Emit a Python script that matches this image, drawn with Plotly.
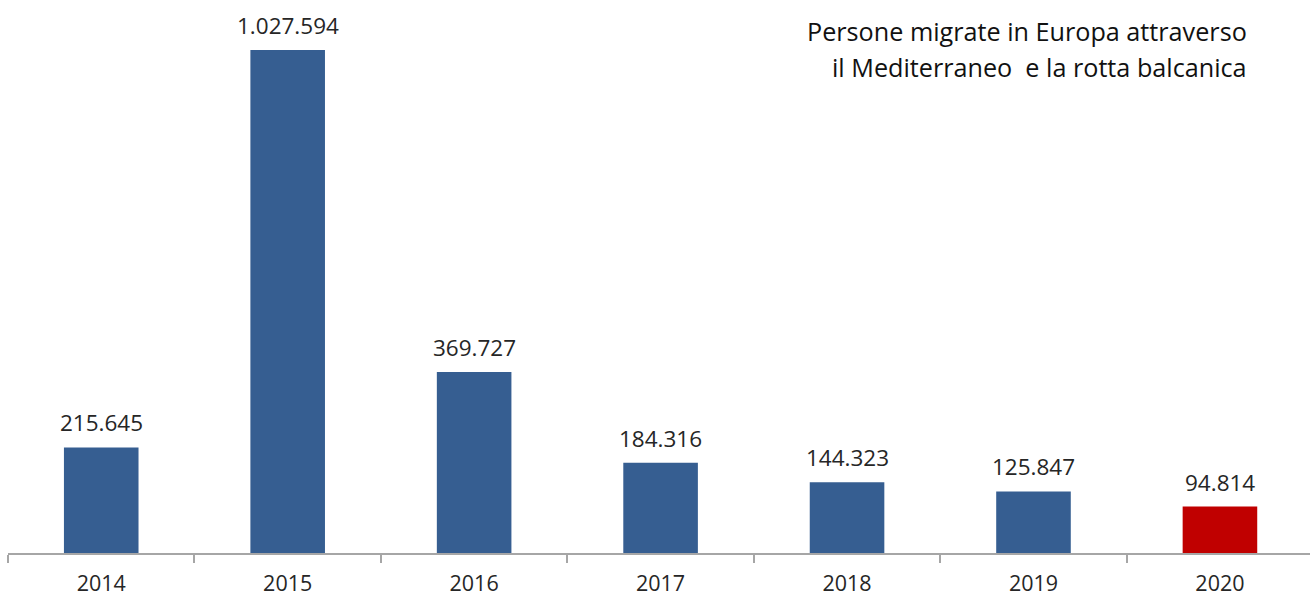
import plotly.graph_objects as go

# Arrivi annuali in Europa via Mediterraneo e rotta balcanica
years = ["2014", "2015", "2016", "2017", "2018", "2019", "2020"]
arrivals = [215645, 1027594, 369727, 184316, 144323, 125847, 94814]
bar_colors = ["#365E91"] * 6 + ["#C00000"]

title_lines = ["Persone migrate in Europa attraverso",
               "il Mediterraneo  e la rotta balcanica"]
title_line_y = [0.944, 0.879]  # posizione verticale (paper) di ciascuna riga

FONT = "Open Sans"


def fmt_it(v):
    return f"{v:,}".replace(",", ".")


fig = go.Figure()
fig.add_trace(go.Bar(
    x=years,
    y=arrivals,
    marker=dict(color=bar_colors, line=dict(width=0)),
    hoverinfo="x+y",
))

# etichette con il valore sopra ogni barra (x = indice della categoria)
for i, v in enumerate(arrivals):
    fig.add_annotation(
        x=i, y=v, xref="x", yref="y", text=fmt_it(v), showarrow=False,
        yanchor="bottom", yshift=7,
        font=dict(family=FONT, size=22.5, color="#262626"),
    )

# titolo su due righe, allineato a destra
for line, ypos in zip(title_lines, title_line_y):
    fig.add_annotation(
        xref="paper", yref="paper", x=0.953, y=ypos,
        xanchor="right", yanchor="middle", align="right",
        text=line, showarrow=False,
        font=dict(family=FONT, size=25.2, color="#111111"),
    )

fig.update_layout(
    width=1310, height=596,
    margin=dict(l=8, r=0, t=0, b=43),
    paper_bgcolor="white", plot_bgcolor="white",
    bargap=0.6,
    showlegend=False,
    separators=",.",
)
fig.update_xaxes(
    type="category",
    range=[-0.5, 6.483],
    showline=True, linecolor="#A6A6A6", linewidth=1.5,
    ticks="outside", tickson="boundaries", ticklen=8,
    tickcolor="#A6A6A6", tickwidth=1.5,
    ticklabelstandoff=10,
    showgrid=False,
    tickfont=dict(family=FONT, size=21.5, color="#262626"),
)
fig.update_yaxes(
    range=[0, 1129750],
    visible=False, showgrid=False, zeroline=False,
)

fig.write_html("out.html")
